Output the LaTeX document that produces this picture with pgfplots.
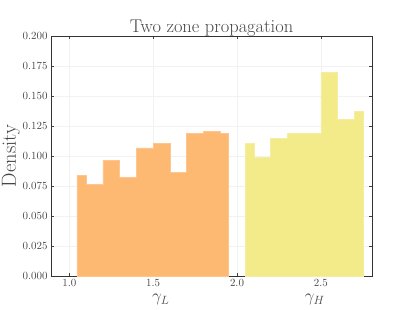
\documentclass[border=0pt]{standalone}
\usepackage{pgfplots}
\pgfplotsset{compat=1.18}
\definecolor{lowc}{RGB}{253,184,114}
\definecolor{highc}{RGB}{243,234,138}
\definecolor{txtc}{RGB}{70,70,70}
\begin{document}
\begin{tikzpicture}[x=1bp,y=1bp]
\begin{axis}[
  scale only axis,
  width=321bp, height=240bp,
  xmin=0.891, xmax=2.805,
  ymin=0, ymax=0.2,
  xtick={1.0,1.5,2.0,2.5},
  ytick={0,0.025,0.05,0.075,0.1,0.125,0.15,0.175,0.2},
  xticklabel style={/pgf/number format/fixed,/pgf/number format/fixed zerofill,/pgf/number format/precision=1},
  yticklabel style={/pgf/number format/fixed,/pgf/number format/fixed zerofill,/pgf/number format/precision=3},
  scaled y ticks=false,
  tick label style={font=\fontsize{11}{12}\selectfont, text=txtc},
  tick align=inside,
  xtick pos=both, ytick pos=both,
  major tick length=3bp,
  tick style={black!75, line width=0.6pt},
  axis line style={black!80, line width=0.7pt},
  grid=major,
  major grid style={black!5, line width=0.4pt},
  title={Two zone propagation},
  title style={font=\fontsize{18.5}{20}\selectfont, text=txtc, yshift=-10bp},
  ylabel={Density},
  ylabel style={font=\fontsize{20.5}{22}\selectfont, text=txtc, at={(axis description cs:-0.125,0.5)}, anchor=center},
  clip=false,
]
\addplot[const plot, fill=lowc, draw=lowc!80!white, line width=0.5pt] coordinates {
 (1.045,0.0839) (1.1,0.0761) (1.2,0.0961) (1.3,0.0819) (1.4,0.1067)
 (1.5,0.1106) (1.6,0.0861) (1.7,0.1186) (1.8,0.1206) (1.9,0.1186) (1.95,0.1186)
} \closedcycle;
\addplot[const plot, fill=highc, draw=highc!80!white, line width=0.5pt] coordinates {
 (2.049,0.1106) (2.1,0.0986) (2.2,0.1147) (2.3,0.1186) (2.4,0.1186)
 (2.5,0.1697) (2.6,0.1308) (2.7,0.1369) (2.754,0.1369)
} \closedcycle;
\node[font=\fontsize{17}{19}\selectfont, text=txtc] at (axis cs:1.546,-0.0195) {$\gamma_L$};
\node[font=\fontsize{17}{19}\selectfont, text=txtc] at (axis cs:2.464,-0.0195) {$\gamma_H$};
\end{axis}
\pgfresetboundingbox
\path (current axis.south west)++(-51bp,-34bp) coordinate (bl);
\path (current axis.north east)++(41bp,36bp) coordinate (tr);
\path (bl) rectangle (tr);
\end{tikzpicture}
\end{document}
